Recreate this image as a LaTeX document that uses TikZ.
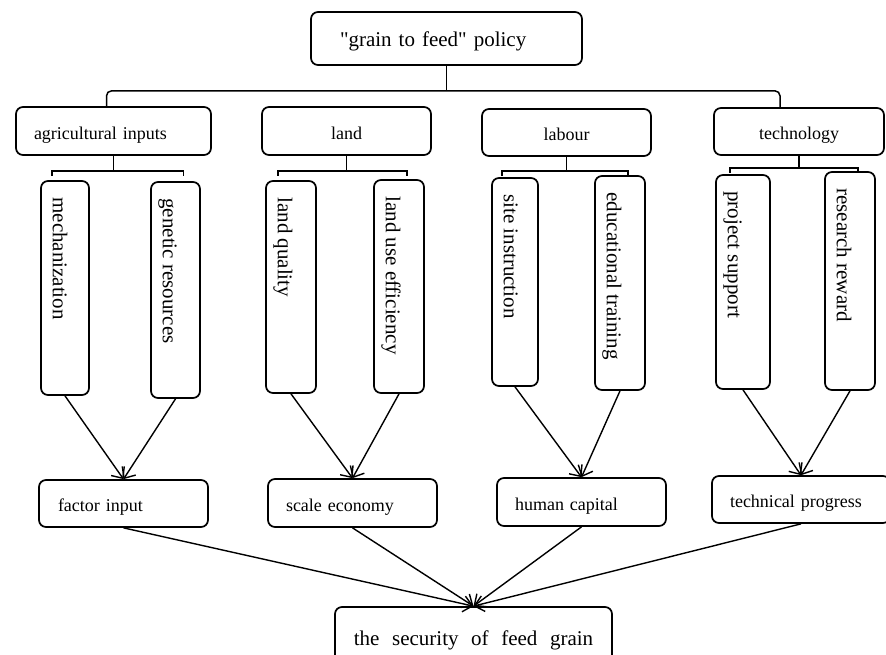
\documentclass[tikz,border=0pt]{standalone}
\usepackage{fontspec}
\setmainfont{Liberation Serif}
\usepackage{graphicx}
\usetikzlibrary{arrows.meta}

\tikzset{
  frame/.style={draw,line width=1.7pt,rounded corners=7pt,inner ysep=0pt},
  box/.style={frame,text height=20pt,text depth=4pt,font=\fontsize{18}{20}\selectfont},
  leftbox/.style 2 args={box,inner xsep=#1,text width=#2,align=left},
  vlab/.style={draw=none,anchor=north west,inner sep=0pt,xshift=5pt,yshift=-17pt,
    font=\fontsize{21}{25}\selectfont},
  tallbox/.style={frame,label={[vlab]north west:\rotatebox{-90}{\strut #1}}},
  conn/.style={line width=1.5pt},
  arr/.style={line width=1.4pt,-{Straight Barb[length=9pt,width=16pt]}}
}

\begin{document}
\begin{tikzpicture}[x=1pt,y=-1pt]
\useasboundingbox (0,0) rectangle (886,654);
\clip (0,0) rectangle (886,654);

\node[leftbox={29pt}{213pt},minimum height=53pt,font=\fontsize{21}{24}\selectfont] (policy) at (446.5,38.5) {\textquotedbl grain to feed\textquotedbl{} policy};

\node[leftbox={18pt}{159pt},minimum height=48pt] (agri) at (113.5,131) {agricultural inputs};
\node[box,minimum width=169pt,minimum height=48pt] (land) at (346.5,131) {land};
\node[box,minimum width=169pt,minimum height=47pt] (labour) at (566.5,132.5) {labour};
\node[box,minimum width=170pt,minimum height=47pt] (tech) at (799,131.5) {technology};

\node[tallbox=mechanization,minimum width=48pt,minimum height=214pt] (mech) at (65,288) {};
\node[tallbox=genetic resources,minimum width=49pt,minimum height=216pt] (gen) at (175.5,290) {};
\node[tallbox=land quality,minimum width=50pt,minimum height=212pt] (lq) at (291,287) {};
\node[tallbox=land use efficiency,minimum width=50pt,minimum height=213pt] (lue) at (399,286.5) {};
\node[tallbox=site instruction,minimum width=46pt,minimum height=208pt] (site) at (515,282) {};
\node[tallbox=educational training,minimum width=50pt,minimum height=214pt] (edu) at (620,283) {};
\node[tallbox=project support,minimum width=54pt,minimum height=214pt] (proj) at (743,282) {};
\node[tallbox=research reward,minimum width=50pt,minimum height=218pt] (res) at (850,281) {};

\node[leftbox={19pt}{131pt},minimum height=47pt] (factor) at (123.5,503.5) {factor input};
\node[leftbox={18pt}{133pt},minimum height=48pt] (scale) at (352.5,503) {scale economy};
\node[leftbox={18pt}{133pt},minimum height=48pt] (human) at (581.5,502) {human capital};
\node[leftbox={18pt}{142pt},minimum height=47pt] (techp) at (801,499.5) {technical progress};

\node[box,minimum width=277pt,minimum height=60pt,font=\fontsize{21}{24}\selectfont] (security) at (473.5,637)
  {the\hspace{.6em}security\hspace{.6em}of\hspace{.6em}feed\hspace{.6em}grain};

\draw[conn] (policy.south) -- ++(0,25) coordinate (split);
\draw[conn,rounded corners=5pt] ([xshift=-7pt]agri.north) |- (split) -| ([xshift=-19pt]tech.north);

\foreach \grp/\ca/\cb/\drop in {agri/mech/gen/15,land/lq/lue/15,labour/site/edu/14,tech/proj/res/12} {
  \draw[conn] (\grp.south) -- ++(0,\drop) coordinate (\grp-b);
  \draw[conn] (\grp-b -| \ca.north) ++(-13,5) -- ++(0,-5) -- (\grp-b)
    -- (\grp-b -| \cb.north) -- ++(8,0) -- ++(0,5);
}

\foreach \src/\dst in {mech/factor,gen/factor,lq/scale,lue/scale,site/human,edu/human,
    proj/techp,res/techp,factor/security,scale/security,human/security,techp/security}
  \draw[arr] (\src.south) -- (\dst.north);
\end{tikzpicture}
\end{document}
